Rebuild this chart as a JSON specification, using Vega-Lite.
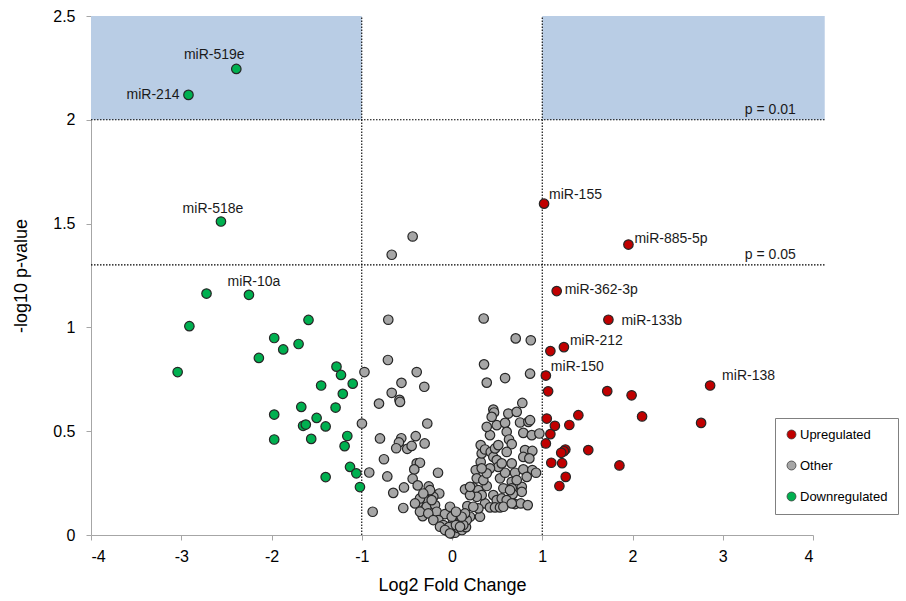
{
  "$schema": "https://vega.github.io/schema/vega-lite/v6.json",
  "width": 722,
  "height": 519,
  "autosize": {"type": "none"},
  "padding": {"left": 91, "top": 16, "right": 93, "bottom": 66},
  "background": "white",
  "config": {
    "view": {"stroke": null},
    "font": "Liberation Sans",
    "axis": {
      "grid": false,
      "domainColor": "#a6a6a6",
      "tickColor": "#a6a6a6",
      "tickSize": 5,
      "labelFont": "Liberation Sans",
      "labelFontSize": 16,
      "labelColor": "#000000",
      "titleFont": "Liberation Sans",
      "titleFontSize": 18,
      "titleFontWeight": "normal",
      "titleColor": "#000000"
    },
    "text": {"font": "Liberation Sans", "fontSize": 14, "color": "#1a1a1a"}
  },
  "datasets": {
    "rects": [
      {"x1": -4, "x2": -1, "y1": 2, "y2": 2.5},
      {"x1": 1, "x2": 4.13, "y1": 2, "y2": 2.5}
    ],
    "vlines": [{"fc": -1}, {"fc": 1}],
    "hlines": [{"p": 2, "text": "p = 0.01"}, {"p": 1.301, "text": "p = 0.05"}],
    "pts": [
      {"fc": -0.668, "p": 1.35, "group": "Other", "label": ""},
      {"fc": -0.436, "p": 1.438, "group": "Other", "label": ""},
      {"fc": -0.706, "p": 1.037, "group": "Other", "label": ""},
      {"fc": 0.351, "p": 1.043, "group": "Other", "label": ""},
      {"fc": -0.71, "p": 0.843, "group": "Other", "label": ""},
      {"fc": 0.706, "p": 0.947, "group": "Other", "label": ""},
      {"fc": 0.873, "p": 0.938, "group": "Other", "label": ""},
      {"fc": 0.355, "p": 0.822, "group": "Other", "label": ""},
      {"fc": -0.97, "p": 0.785, "group": "Other", "label": ""},
      {"fc": -0.391, "p": 0.785, "group": "Other", "label": ""},
      {"fc": -0.56, "p": 0.733, "group": "Other", "label": ""},
      {"fc": -0.307, "p": 0.714, "group": "Other", "label": ""},
      {"fc": -0.668, "p": 0.685, "group": "Other", "label": ""},
      {"fc": 0.385, "p": 0.734, "group": "Other", "label": ""},
      {"fc": 0.588, "p": 0.756, "group": "Other", "label": ""},
      {"fc": 0.865, "p": 0.777, "group": "Other", "label": ""},
      {"fc": -0.582, "p": 0.651, "group": "Other", "label": ""},
      {"fc": -0.576, "p": 0.641, "group": "Other", "label": ""},
      {"fc": -0.809, "p": 0.633, "group": "Other", "label": ""},
      {"fc": 0.779, "p": 0.636, "group": "Other", "label": ""},
      {"fc": -0.998, "p": 0.537, "group": "Other", "label": ""},
      {"fc": -0.274, "p": 0.537, "group": "Other", "label": ""},
      {"fc": 0.458, "p": 0.604, "group": "Other", "label": ""},
      {"fc": 0.466, "p": 0.59, "group": "Other", "label": ""},
      {"fc": -0.798, "p": 0.465, "group": "Other", "label": ""},
      {"fc": -0.562, "p": 0.466, "group": "Other", "label": ""},
      {"fc": -0.402, "p": 0.476, "group": "Other", "label": ""},
      {"fc": -0.588, "p": 0.446, "group": "Other", "label": ""},
      {"fc": -0.618, "p": 0.418, "group": "Other", "label": ""},
      {"fc": -0.496, "p": 0.415, "group": "Other", "label": ""},
      {"fc": -0.447, "p": 0.429, "group": "Other", "label": ""},
      {"fc": -0.303, "p": 0.441, "group": "Other", "label": ""},
      {"fc": -0.754, "p": 0.365, "group": "Other", "label": ""},
      {"fc": -0.391, "p": 0.345, "group": "Other", "label": ""},
      {"fc": -0.355, "p": 0.348, "group": "Other", "label": ""},
      {"fc": -0.418, "p": 0.316, "group": "Other", "label": ""},
      {"fc": -0.917, "p": 0.301, "group": "Other", "label": ""},
      {"fc": -0.717, "p": 0.282, "group": "Other", "label": ""},
      {"fc": -0.436, "p": 0.271, "group": "Other", "label": ""},
      {"fc": -0.155, "p": 0.3, "group": "Other", "label": ""},
      {"fc": -0.38, "p": 0.239, "group": "Other", "label": ""},
      {"fc": -0.258, "p": 0.234, "group": "Other", "label": ""},
      {"fc": -0.532, "p": 0.229, "group": "Other", "label": ""},
      {"fc": -0.651, "p": 0.203, "group": "Other", "label": ""},
      {"fc": -0.225, "p": 0.2, "group": "Other", "label": ""},
      {"fc": -0.141, "p": 0.2, "group": "Other", "label": ""},
      {"fc": -0.299, "p": 0.176, "group": "Other", "label": ""},
      {"fc": -0.374, "p": 0.155, "group": "Other", "label": ""},
      {"fc": -0.207, "p": 0.184, "group": "Other", "label": ""},
      {"fc": -0.54, "p": 0.13, "group": "Other", "label": ""},
      {"fc": -0.879, "p": 0.112, "group": "Other", "label": ""},
      {"fc": -0.28, "p": 0.136, "group": "Other", "label": ""},
      {"fc": -0.188, "p": 0.144, "group": "Other", "label": ""},
      {"fc": -0.325, "p": 0.091, "group": "Other", "label": ""},
      {"fc": -0.17, "p": 0.112, "group": "Other", "label": ""},
      {"fc": -0.078, "p": 0.101, "group": "Other", "label": ""},
      {"fc": -0.152, "p": 0.072, "group": "Other", "label": ""},
      {"fc": -0.096, "p": 0.048, "group": "Other", "label": ""},
      {"fc": -0.041, "p": 0.016, "group": "Other", "label": ""},
      {"fc": -0.003, "p": 0.008, "group": "Other", "label": ""},
      {"fc": 0.033, "p": 0.011, "group": "Other", "label": ""},
      {"fc": 0.067, "p": 0.034, "group": "Other", "label": ""},
      {"fc": 0.1, "p": 0.053, "group": "Other", "label": ""},
      {"fc": 0.133, "p": 0.072, "group": "Other", "label": ""},
      {"fc": 0.078, "p": 0.082, "group": "Other", "label": ""},
      {"fc": 0.011, "p": 0.063, "group": "Other", "label": ""},
      {"fc": -0.033, "p": 0.038, "group": "Other", "label": ""},
      {"fc": 0.044, "p": 0.048, "group": "Other", "label": ""},
      {"fc": 0.111, "p": 0.024, "group": "Other", "label": ""},
      {"fc": 0.155, "p": 0.038, "group": "Other", "label": ""},
      {"fc": 0.144, "p": 0.22, "group": "Other", "label": ""},
      {"fc": 0.236, "p": 0.229, "group": "Other", "label": ""},
      {"fc": 0.292, "p": 0.216, "group": "Other", "label": ""},
      {"fc": 0.385, "p": 0.236, "group": "Other", "label": ""},
      {"fc": 0.17, "p": 0.139, "group": "Other", "label": ""},
      {"fc": 0.31, "p": 0.088, "group": "Other", "label": ""},
      {"fc": 0.263, "p": 0.313, "group": "Other", "label": ""},
      {"fc": 0.274, "p": 0.273, "group": "Other", "label": ""},
      {"fc": 0.318, "p": 0.352, "group": "Other", "label": ""},
      {"fc": 0.329, "p": 0.393, "group": "Other", "label": ""},
      {"fc": 0.318, "p": 0.433, "group": "Other", "label": ""},
      {"fc": 0.366, "p": 0.412, "group": "Other", "label": ""},
      {"fc": 0.429, "p": 0.4, "group": "Other", "label": ""},
      {"fc": 0.458, "p": 0.376, "group": "Other", "label": ""},
      {"fc": 0.477, "p": 0.417, "group": "Other", "label": ""},
      {"fc": 0.421, "p": 0.481, "group": "Other", "label": ""},
      {"fc": 0.496, "p": 0.529, "group": "Other", "label": ""},
      {"fc": 0.588, "p": 0.54, "group": "Other", "label": ""},
      {"fc": 0.606, "p": 0.497, "group": "Other", "label": ""},
      {"fc": 0.632, "p": 0.46, "group": "Other", "label": ""},
      {"fc": 0.662, "p": 0.438, "group": "Other", "label": ""},
      {"fc": 0.754, "p": 0.542, "group": "Other", "label": ""},
      {"fc": 0.846, "p": 0.545, "group": "Other", "label": ""},
      {"fc": 0.79, "p": 0.492, "group": "Other", "label": ""},
      {"fc": 0.884, "p": 0.481, "group": "Other", "label": ""},
      {"fc": 0.968, "p": 0.489, "group": "Other", "label": ""},
      {"fc": 0.809, "p": 0.409, "group": "Other", "label": ""},
      {"fc": 0.89, "p": 0.405, "group": "Other", "label": ""},
      {"fc": 0.79, "p": 0.376, "group": "Other", "label": ""},
      {"fc": 0.857, "p": 0.369, "group": "Other", "label": ""},
      {"fc": 0.698, "p": 0.3, "group": "Other", "label": ""},
      {"fc": 0.79, "p": 0.316, "group": "Other", "label": ""},
      {"fc": 0.89, "p": 0.313, "group": "Other", "label": ""},
      {"fc": 0.931, "p": 0.3, "group": "Other", "label": ""},
      {"fc": 0.532, "p": 0.273, "group": "Other", "label": ""},
      {"fc": 0.588, "p": 0.3, "group": "Other", "label": ""},
      {"fc": 0.662, "p": 0.256, "group": "Other", "label": ""},
      {"fc": 0.662, "p": 0.225, "group": "Other", "label": ""},
      {"fc": 0.569, "p": 0.225, "group": "Other", "label": ""},
      {"fc": 0.496, "p": 0.361, "group": "Other", "label": ""},
      {"fc": 0.513, "p": 0.328, "group": "Other", "label": ""},
      {"fc": 0.421, "p": 0.321, "group": "Other", "label": ""},
      {"fc": 0.773, "p": 0.232, "group": "Other", "label": ""},
      {"fc": 0.773, "p": 0.208, "group": "Other", "label": ""},
      {"fc": 0.673, "p": 0.197, "group": "Other", "label": ""},
      {"fc": 0.458, "p": 0.192, "group": "Other", "label": ""},
      {"fc": 0.496, "p": 0.168, "group": "Other", "label": ""},
      {"fc": 0.551, "p": 0.176, "group": "Other", "label": ""},
      {"fc": 0.606, "p": 0.168, "group": "Other", "label": ""},
      {"fc": 0.366, "p": 0.152, "group": "Other", "label": ""},
      {"fc": 0.421, "p": 0.133, "group": "Other", "label": ""},
      {"fc": 0.477, "p": 0.133, "group": "Other", "label": ""},
      {"fc": 0.532, "p": 0.133, "group": "Other", "label": ""},
      {"fc": 0.569, "p": 0.136, "group": "Other", "label": ""},
      {"fc": 0.698, "p": 0.149, "group": "Other", "label": ""},
      {"fc": 0.762, "p": 0.152, "group": "Other", "label": ""},
      {"fc": 0.839, "p": 0.144, "group": "Other", "label": ""},
      {"fc": 0.329, "p": 0.192, "group": "Other", "label": ""},
      {"fc": 0.274, "p": 0.184, "group": "Other", "label": ""},
      {"fc": 0.292, "p": 0.128, "group": "Other", "label": ""},
      {"fc": 0.236, "p": 0.136, "group": "Other", "label": ""},
      {"fc": 0.2, "p": 0.088, "group": "Other", "label": ""},
      {"fc": 0.163, "p": 0.072, "group": "Other", "label": ""},
      {"fc": 0.125, "p": 0.048, "group": "Other", "label": ""},
      {"fc": 0.089, "p": 0.04, "group": "Other", "label": ""},
      {"fc": 0.144, "p": 0.104, "group": "Other", "label": ""},
      {"fc": 0.107, "p": 0.088, "group": "Other", "label": ""},
      {"fc": 0.2, "p": 0.192, "group": "Other", "label": ""},
      {"fc": 0.347, "p": 0.264, "group": "Other", "label": ""},
      {"fc": 0.385, "p": 0.297, "group": "Other", "label": ""},
      {"fc": 0.329, "p": 0.321, "group": "Other", "label": ""},
      {"fc": 0.513, "p": 0.433, "group": "Other", "label": ""},
      {"fc": 0.551, "p": 0.345, "group": "Other", "label": ""},
      {"fc": 0.606, "p": 0.4, "group": "Other", "label": ""},
      {"fc": 0.662, "p": 0.345, "group": "Other", "label": ""},
      {"fc": 0.717, "p": 0.264, "group": "Other", "label": ""},
      {"fc": 0.828, "p": 0.28, "group": "Other", "label": ""},
      {"fc": 0.643, "p": 0.216, "group": "Other", "label": ""},
      {"fc": 0.662, "p": 0.152, "group": "Other", "label": ""},
      {"fc": 0.385, "p": 0.521, "group": "Other", "label": ""},
      {"fc": 0.44, "p": 0.569, "group": "Other", "label": ""},
      {"fc": 0.624, "p": 0.585, "group": "Other", "label": ""},
      {"fc": 0.717, "p": 0.593, "group": "Other", "label": ""},
      {"fc": 0.865, "p": 0.553, "group": "Other", "label": ""},
      {"fc": 0.2, "p": 0.232, "group": "Other", "label": ""},
      {"fc": -0.022, "p": 0.136, "group": "Other", "label": ""},
      {"fc": -0.003, "p": 0.088, "group": "Other", "label": ""},
      {"fc": 0.044, "p": 0.112, "group": "Other", "label": ""},
      {"fc": -0.225, "p": 0.168, "group": "Other", "label": ""},
      {"fc": -0.355, "p": 0.176, "group": "Other", "label": ""},
      {"fc": -0.244, "p": 0.216, "group": "Other", "label": ""},
      {"fc": -0.318, "p": 0.2, "group": "Other", "label": ""},
      {"fc": -0.41, "p": 0.152, "group": "Other", "label": ""},
      {"fc": -0.355, "p": 0.112, "group": "Other", "label": ""},
      {"fc": -0.263, "p": 0.104, "group": "Other", "label": ""},
      {"fc": -0.207, "p": 0.072, "group": "Other", "label": ""},
      {"fc": -0.133, "p": 0.04, "group": "Other", "label": ""},
      {"fc": -0.078, "p": 0.024, "group": "Other", "label": ""},
      {"fc": -0.022, "p": 0.008, "group": "Other", "label": ""},
      {"fc": 1.02, "p": 1.596, "group": "Upregulated", "label": "miR-155"},
      {"fc": 1.955, "p": 1.399, "group": "Upregulated", "label": "miR-885-5p"},
      {"fc": 1.16, "p": 1.175, "group": "Upregulated", "label": "miR-362-3p"},
      {"fc": 1.733, "p": 1.037, "group": "Upregulated", "label": "miR-133b"},
      {"fc": 1.09, "p": 0.886, "group": "Upregulated", "label": ""},
      {"fc": 1.24, "p": 0.905, "group": "Upregulated", "label": "miR-212"},
      {"fc": 1.04, "p": 0.768, "group": "Upregulated", "label": "miR-150"},
      {"fc": 2.86, "p": 0.72, "group": "Upregulated", "label": "miR-138"},
      {"fc": 1.065, "p": 0.692, "group": "Upregulated", "label": ""},
      {"fc": 1.72, "p": 0.693, "group": "Upregulated", "label": ""},
      {"fc": 1.99, "p": 0.673, "group": "Upregulated", "label": ""},
      {"fc": 1.4, "p": 0.577, "group": "Upregulated", "label": ""},
      {"fc": 2.106, "p": 0.571, "group": "Upregulated", "label": ""},
      {"fc": 1.05, "p": 0.561, "group": "Upregulated", "label": ""},
      {"fc": 2.76, "p": 0.54, "group": "Upregulated", "label": ""},
      {"fc": 1.3, "p": 0.53, "group": "Upregulated", "label": ""},
      {"fc": 1.14, "p": 0.526, "group": "Upregulated", "label": ""},
      {"fc": 1.09, "p": 0.486, "group": "Upregulated", "label": ""},
      {"fc": 1.04, "p": 0.441, "group": "Upregulated", "label": ""},
      {"fc": 1.256, "p": 0.412, "group": "Upregulated", "label": ""},
      {"fc": 1.24, "p": 0.404, "group": "Upregulated", "label": ""},
      {"fc": 1.21, "p": 0.396, "group": "Upregulated", "label": ""},
      {"fc": 1.51, "p": 0.409, "group": "Upregulated", "label": ""},
      {"fc": 1.1, "p": 0.348, "group": "Upregulated", "label": ""},
      {"fc": 1.22, "p": 0.346, "group": "Upregulated", "label": ""},
      {"fc": 1.855, "p": 0.335, "group": "Upregulated", "label": ""},
      {"fc": 1.26, "p": 0.28, "group": "Upregulated", "label": ""},
      {"fc": 1.19, "p": 0.236, "group": "Upregulated", "label": ""},
      {"fc": -2.39, "p": 2.245, "group": "Downregulated", "label": "miR-519e"},
      {"fc": -2.92, "p": 2.12, "group": "Downregulated", "label": "miR-214"},
      {"fc": -2.56, "p": 1.51, "group": "Downregulated", "label": "miR-518e"},
      {"fc": -2.72, "p": 1.163, "group": "Downregulated", "label": ""},
      {"fc": -2.25, "p": 1.157, "group": "Downregulated", "label": "miR-10a"},
      {"fc": -1.59, "p": 1.036, "group": "Downregulated", "label": ""},
      {"fc": -2.91, "p": 1.006, "group": "Downregulated", "label": ""},
      {"fc": -1.97, "p": 0.949, "group": "Downregulated", "label": ""},
      {"fc": -1.87, "p": 0.894, "group": "Downregulated", "label": ""},
      {"fc": -1.7, "p": 0.92, "group": "Downregulated", "label": ""},
      {"fc": -2.14, "p": 0.853, "group": "Downregulated", "label": ""},
      {"fc": -3.04, "p": 0.785, "group": "Downregulated", "label": ""},
      {"fc": -1.28, "p": 0.811, "group": "Downregulated", "label": ""},
      {"fc": -1.23, "p": 0.771, "group": "Downregulated", "label": ""},
      {"fc": -1.1, "p": 0.729, "group": "Downregulated", "label": ""},
      {"fc": -1.45, "p": 0.72, "group": "Downregulated", "label": ""},
      {"fc": -1.21, "p": 0.68, "group": "Downregulated", "label": ""},
      {"fc": -1.67, "p": 0.617, "group": "Downregulated", "label": ""},
      {"fc": -1.29, "p": 0.614, "group": "Downregulated", "label": ""},
      {"fc": -1.97, "p": 0.58, "group": "Downregulated", "label": ""},
      {"fc": -1.5, "p": 0.564, "group": "Downregulated", "label": ""},
      {"fc": -1.65, "p": 0.526, "group": "Downregulated", "label": ""},
      {"fc": -1.62, "p": 0.532, "group": "Downregulated", "label": ""},
      {"fc": -1.4, "p": 0.523, "group": "Downregulated", "label": ""},
      {"fc": -1.16, "p": 0.477, "group": "Downregulated", "label": ""},
      {"fc": -1.97, "p": 0.46, "group": "Downregulated", "label": ""},
      {"fc": -1.56, "p": 0.463, "group": "Downregulated", "label": ""},
      {"fc": -1.19, "p": 0.428, "group": "Downregulated", "label": ""},
      {"fc": -1.13, "p": 0.328, "group": "Downregulated", "label": ""},
      {"fc": -1.06, "p": 0.297, "group": "Downregulated", "label": ""},
      {"fc": -1.4, "p": 0.279, "group": "Downregulated", "label": ""},
      {"fc": -1.02, "p": 0.231, "group": "Downregulated", "label": ""}
    ]
  },
  "layer": [
    {
      "data": {"name": "rects"},
      "mark": {"type": "rect", "color": "#b9cde5"},
      "encoding": {
        "x": {"field": "x1", "type": "quantitative", "scale": {"domain": [-4, 4], "nice": false, "zero": false}, "title": "Log2 Fold Change"},
        "x2": {"field": "x2"},
        "y": {"field": "y1", "type": "quantitative", "scale": {"domain": [0, 2.5], "nice": false, "zero": false}, "title": "-log10 p-value"},
        "y2": {"field": "y2"}
      }
    },
    {
      "data": {"name": "vlines"},
      "mark": {"type": "rule", "color": "#000000", "strokeDash": [1.5, 1.5], "strokeWidth": 1.1},
      "encoding": {
        "x": {"field": "fc", "type": "quantitative", "scale": {"domain": [-4, 4], "nice": false, "zero": false}, "title": "Log2 Fold Change"},
        "y": {"datum": 0, "type": "quantitative", "scale": {"domain": [0, 2.5], "nice": false, "zero": false}, "title": "-log10 p-value"},
        "y2": {"datum": 2.5}
      }
    },
    {
      "data": {"name": "hlines"},
      "mark": {"type": "rule", "color": "#000000", "strokeDash": [1.5, 1.5], "strokeWidth": 1.1},
      "encoding": {
        "x": {"datum": -4, "type": "quantitative", "scale": {"domain": [-4, 4], "nice": false, "zero": false}, "title": "Log2 Fold Change"},
        "x2": {"datum": 4.13},
        "y": {"field": "p", "type": "quantitative", "scale": {"domain": [0, 2.5], "nice": false, "zero": false}, "title": "-log10 p-value"}
      }
    },
    {
      "data": {"name": "hlines"},
      "mark": {"type": "text", "align": "right", "baseline": "alphabetic", "dy": -6, "fontSize": 14},
      "encoding": {
        "x": {"datum": 3.81, "type": "quantitative", "scale": {"domain": [-4, 4], "nice": false, "zero": false}, "title": "Log2 Fold Change"},
        "y": {"field": "p", "type": "quantitative", "scale": {"domain": [0, 2.5], "nice": false, "zero": false}, "title": "-log10 p-value"},
        "text": {"field": "text"}
      }
    },
    {
      "data": {"name": "pts"},
      "mark": {"type": "circle", "size": 90, "opacity": 1, "stroke": "#262626", "strokeWidth": 1.2},
      "encoding": {
        "x": {
          "field": "fc", "type": "quantitative",
          "scale": {"domain": [-4, 4], "nice": false, "zero": false},
          "title": "Log2 Fold Change",
          "axis": {"values": [-4, -3, -2, -1, 0, 1, 2, 3, 4], "labelExpr": "'' + datum.value", "labelPadding": 8, "titlePadding": 12}
        },
        "y": {
          "field": "p", "type": "quantitative",
          "scale": {"domain": [0, 2.5], "nice": false, "zero": false},
          "title": "-log10 p-value",
          "axis": {"values": [0, 0.5, 1, 1.5, 2, 2.5], "labelExpr": "'' + datum.value", "labelPadding": 11, "titlePadding": 22}
        },
        "color": {
          "field": "group", "type": "nominal",
          "scale": {"domain": ["Upregulated", "Other", "Downregulated"], "range": ["#c00000", "#a6a6a6", "#00b050"]},
          "legend": {
            "orient": "none", "legendX": 684, "legendY": 402, "title": null,
            "padding": 10, "strokeColor": "#808080", "fillColor": "#ffffff",
            "labelFontSize": 13, "labelFont": "Liberation Sans", "labelColor": "#000000",
            "rowPadding": 17, "symbolType": "circle", "symbolSize": 80,
            "symbolStrokeColor": "#404040", "symbolStrokeWidth": 0.8, "labelOffset": 2
          }
        }
      }
    },
    {
      "data": {"name": "pts"},
      "transform": [{"filter": "datum.label == 'miR-214'"}],
      "mark": {"type": "text", "align": "right", "baseline": "middle", "dx": -9},
      "encoding": {
        "x": {"field": "fc", "type": "quantitative", "scale": {"domain": [-4, 4], "nice": false, "zero": false}, "title": "Log2 Fold Change"},
        "y": {"field": "p", "type": "quantitative", "scale": {"domain": [0, 2.5], "nice": false, "zero": false}, "title": "-log10 p-value"},
        "text": {"field": "label"}
      }
    },
    {
      "data": {"name": "pts"},
      "transform": [{"filter": "datum.label == 'miR-519e'"}],
      "mark": {"type": "text", "align": "center", "baseline": "alphabetic", "dx": -22, "dy": -10},
      "encoding": {
        "x": {"field": "fc", "type": "quantitative", "scale": {"domain": [-4, 4], "nice": false, "zero": false}, "title": "Log2 Fold Change"},
        "y": {"field": "p", "type": "quantitative", "scale": {"domain": [0, 2.5], "nice": false, "zero": false}, "title": "-log10 p-value"},
        "text": {"field": "label"}
      }
    },
    {
      "data": {"name": "pts"},
      "transform": [{"filter": "datum.label == 'miR-518e'"}],
      "mark": {"type": "text", "align": "center", "baseline": "alphabetic", "dx": -8, "dy": -9},
      "encoding": {
        "x": {"field": "fc", "type": "quantitative", "scale": {"domain": [-4, 4], "nice": false, "zero": false}, "title": "Log2 Fold Change"},
        "y": {"field": "p", "type": "quantitative", "scale": {"domain": [0, 2.5], "nice": false, "zero": false}, "title": "-log10 p-value"},
        "text": {"field": "label"}
      }
    },
    {
      "data": {"name": "pts"},
      "transform": [{"filter": "datum.label == 'miR-10a'"}],
      "mark": {"type": "text", "align": "center", "baseline": "alphabetic", "dx": 5, "dy": -9},
      "encoding": {
        "x": {"field": "fc", "type": "quantitative", "scale": {"domain": [-4, 4], "nice": false, "zero": false}, "title": "Log2 Fold Change"},
        "y": {"field": "p", "type": "quantitative", "scale": {"domain": [0, 2.5], "nice": false, "zero": false}, "title": "-log10 p-value"},
        "text": {"field": "label"}
      }
    },
    {
      "data": {"name": "pts"},
      "transform": [{"filter": "datum.label == 'miR-155' || datum.label == 'miR-150'"}],
      "mark": {"type": "text", "align": "left", "baseline": "middle", "dx": 5, "dy": -9},
      "encoding": {
        "x": {"field": "fc", "type": "quantitative", "scale": {"domain": [-4, 4], "nice": false, "zero": false}, "title": "Log2 Fold Change"},
        "y": {"field": "p", "type": "quantitative", "scale": {"domain": [0, 2.5], "nice": false, "zero": false}, "title": "-log10 p-value"},
        "text": {"field": "label"}
      }
    },
    {
      "data": {"name": "pts"},
      "transform": [{"filter": "datum.label == 'miR-885-5p' || datum.label == 'miR-212'"}],
      "mark": {"type": "text", "align": "left", "baseline": "middle", "dx": 6, "dy": -6},
      "encoding": {
        "x": {"field": "fc", "type": "quantitative", "scale": {"domain": [-4, 4], "nice": false, "zero": false}, "title": "Log2 Fold Change"},
        "y": {"field": "p", "type": "quantitative", "scale": {"domain": [0, 2.5], "nice": false, "zero": false}, "title": "-log10 p-value"},
        "text": {"field": "label"}
      }
    },
    {
      "data": {"name": "pts"},
      "transform": [{"filter": "datum.label == 'miR-362-3p'"}],
      "mark": {"type": "text", "align": "left", "baseline": "middle", "dx": 8, "dy": -1},
      "encoding": {
        "x": {"field": "fc", "type": "quantitative", "scale": {"domain": [-4, 4], "nice": false, "zero": false}, "title": "Log2 Fold Change"},
        "y": {"field": "p", "type": "quantitative", "scale": {"domain": [0, 2.5], "nice": false, "zero": false}, "title": "-log10 p-value"},
        "text": {"field": "label"}
      }
    },
    {
      "data": {"name": "pts"},
      "transform": [{"filter": "datum.label == 'miR-133b'"}],
      "mark": {"type": "text", "align": "left", "baseline": "middle", "dx": 13, "dy": 1},
      "encoding": {
        "x": {"field": "fc", "type": "quantitative", "scale": {"domain": [-4, 4], "nice": false, "zero": false}, "title": "Log2 Fold Change"},
        "y": {"field": "p", "type": "quantitative", "scale": {"domain": [0, 2.5], "nice": false, "zero": false}, "title": "-log10 p-value"},
        "text": {"field": "label"}
      }
    },
    {
      "data": {"name": "pts"},
      "transform": [{"filter": "datum.label == 'miR-138'"}],
      "mark": {"type": "text", "align": "left", "baseline": "middle", "dx": 12, "dy": -10},
      "encoding": {
        "x": {"field": "fc", "type": "quantitative", "scale": {"domain": [-4, 4], "nice": false, "zero": false}, "title": "Log2 Fold Change"},
        "y": {"field": "p", "type": "quantitative", "scale": {"domain": [0, 2.5], "nice": false, "zero": false}, "title": "-log10 p-value"},
        "text": {"field": "label"}
      }
    }
  ]
}
